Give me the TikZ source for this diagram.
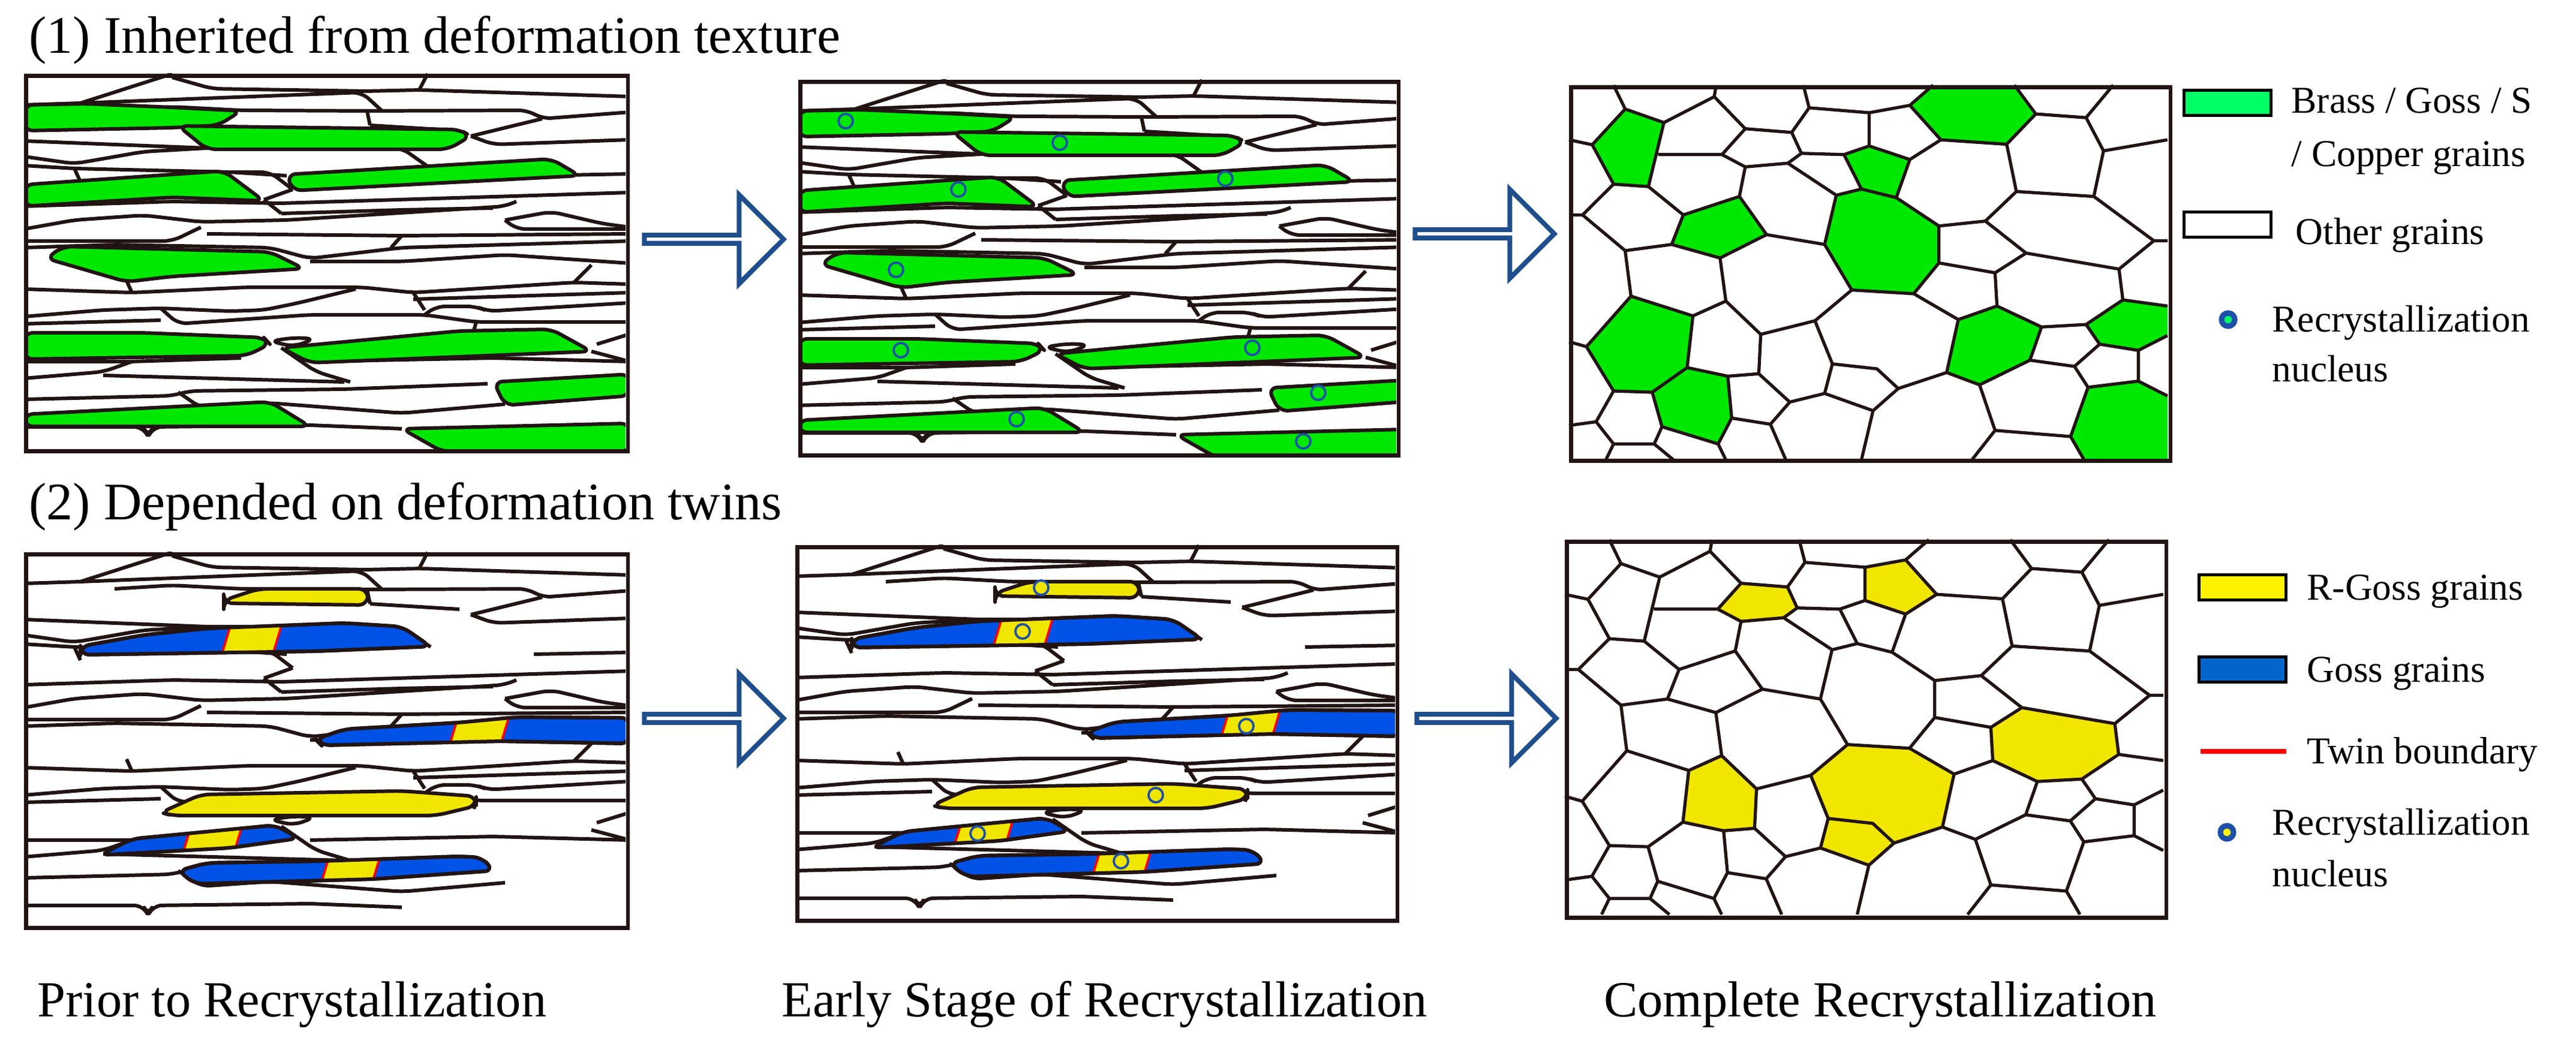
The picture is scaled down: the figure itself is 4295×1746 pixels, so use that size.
\documentclass[tikz,border=0pt]{standalone}
\usepackage{fontspec}
\setmainfont{Liberation Serif}
\newfontfamily\labelfont{Liberation Serif}
\usetikzlibrary{shapes.arrows}

\definecolor{grgreen}{RGB}{0,232,0}
\definecolor{leggreen}{RGB}{0,255,100}
\definecolor{gossblue}{RGB}{0,82,230}
\definecolor{legblue}{RGB}{0,102,204}
\definecolor{rgoss}{RGB}{240,230,0}
\definecolor{arrowblue}{RGB}{31,78,140}
\definecolor{nucblue}{RGB}{30,80,170}
\definecolor{gbcol}{RGB}{35,20,20}

% elongated grains of the rolled sheet, local pixels
\newcommand\deformnet{%
  \draw[gb] (94,49)--(247,0) (247,6)--(314,25)--(572,29)--(659,27)--(1010,38)
    (659,27)--(673,0)
    (0,52)--(94,49)--(563,31)--(596,61)
    (151,61)--(247,55)--(362,61)--(572,62)--(840,61)--(864,75)--(1010,64)
    (572,62)--(577,86)
    (0,112)--(151,118)--(305,124)
    (0,138)--(84,150)--(199,130)--(305,124)
    (577,86)--(726,95) (745,104)--(864,75)
    (745,104)--(783,118)--(1010,110)
    (305,124)--(630,124)--(678,158)
    (0,153)--(84,158)--(343,164)--(438,170) (84,158)--(94,180)
    (343,164)--(410,164)--(448,193)
    (400,210)--(429,233) (400,210)--(448,193)
    (850,170)--(1010,167)
    (429,216)--(1010,198)
    (0,221)--(247,213)--(429,216)
    (0,259)--(84,244)--(199,236)--(295,247)--(438,244)--(802,221)--(821,213)
    (429,233)--(630,227)--(782,224)
    (802,244)--(821,259)--(1010,259) (802,244)--(879,230)--(965,250)--(1010,256)
    (0,279)--(247,279)--(295,256)
    (305,267)--(630,270)--(1010,267)
    (0,290)--(151,285)--(410,290)--(477,308)--(630,290)--(1010,279) (630,270)--(612,290)
    (477,313)--(630,313)--(802,302)--(1010,316)
    (171,345)--(180,365)
    (0,359)--(180,365)--(372,356)--(563,356)--(649,365)--(917,348)--(1010,351)
    (917,348)--(946,319)
    (0,405)--(132,394)--(228,391)--(343,396)--(400,394)--(458,382)--(553,359)
    (228,391)--(257,417)--(477,402)--(668,402)--(754,414)--(1010,414)
    (668,402)--(687,388)--(754,388)--(773,396)--(1010,382)
    (649,365)--(668,394) (649,376)--(1010,365)
    (754,414)--(750,428)
    (0,417)--(228,411)
    (410,446)--(450,440)--(485,442)--(450,455)--cycle
    (429,457)--(487,497)--(544,514)
    (0,480)--(180,480)--(362,474)
    (0,508)--(132,497)--(180,480) (132,503)--(534,514)
    (946,463)--(1010,480) (955,451)--(1010,434)
    (477,480)--(783,474)--(1010,480)
    (0,543)--(247,537)--(276,529)--(534,526)--(773,517)
    (257,531)--(295,557)--(410,549)--(630,566)--(802,551)
    (477,586)--(630,592)
    (0,589)--(199,589)--(207,606)--(215,589)--(477,586);
}

% texture grains (green)
\newcommand\texgrains{%
  \filldraw[gb, fill=grgreen] (0,52)--(104,50)--(247,56)--(362,62)--(324,86)--(247,90)--(0,95)--cycle;
  \filldraw[gb, fill=grgreen] (257,87)--(726,93)--(745,104)--(707,126)--(305,126)--cycle;
  \filldraw[gb, fill=grgreen] (0,185)--(333,162)--(400,212)--(247,206)--(0,221)--cycle;
  \filldraw[gb, fill=grgreen] (438,168)--(879,142)--(927,170)--(448,195)--cycle;
  \filldraw[gb, fill=grgreen] (37,308)--(65,288)--(410,297)--(467,325)--(247,338)--(171,347)--cycle;
  \filldraw[gb, fill=grgreen] (0,432)--(199,432)--(400,440)--(410,451)--(371,470)--(0,476)--cycle;
  \filldraw[gb, fill=grgreen] (429,457)--(726,429)--(879,426)--(946,463)--(477,482)--cycle;
  \filldraw[gb, fill=grgreen] (783,514)--(1010,501)--(1010,537)--(802,553)--cycle;
  \filldraw[gb, fill=grgreen] (0,568)--(410,547)--(477,588)--(0,588)--cycle;
  \filldraw[gb, fill=grgreen] (630,592)--(1010,583)--(1010,630)--(697,630)--cycle;
}

% Goss grains with twins
\newcommand\twingrain[3]{%
  \filldraw[gb, fill=gossblue] #1;
  \begin{scope}
    \clip #1;
    \fill[rgoss] ({#2+15},{#3-50})--({#2+15+85},{#3-50})--({#2-15+85},{#3+50})--({#2-15},{#3+50})--cycle;
    \draw[twin] ({#2+15},{#3-50})--({#2-15},{#3+50}) ({#2+15+85},{#3-50})--({#2-15+85},{#3+50});
  \end{scope}
  \draw[gb] #1;
}
\newcommand\twingrains{%
  \filldraw[gb, fill=rgoss] (333,80)--(391,61)--(573,61)--(573,88)--(333,85)--cycle;
  \twingrain{(94,157)--(199,138)--(305,127)--(534,118)--(630,124)--(678,157)--(486,165)--(94,171)--cycle}{338}{143}
  \twingrain{(486,312)--(534,295)--(726,284)--(821,275)--(1010,276)--(1010,319)--(793,315)--(496,322)--cycle}{716}{300}
  \filldraw[gb, fill=rgoss] (228,434)--(295,404)--(630,398)--(754,407)--(754,423)--(687,439)--(247,439)--cycle;
  \twingrain{(127,505)--(180,478)--(419,455)--(458,477)--(343,493)--cycle}{270}{485}
  \twingrain{(257,531)--(305,518)--(496,515)--(726,507)--(764,509)--(783,531)--(582,545)--(285,553)--cycle}{502}{530}
}

% equiaxed grains after recrystallization, zoom pixels
\newcommand\polycoords{%
  \foreach \n/\p in {1/{125,18},2/{155,115},3/{255,170},4/{390,18},5/{385,65},6/{465,195},
    7/{585,210},8/{630,110},9/{615,18},10/{785,130},11/{890,100},12/{950,18},13/{1160,18},
    14/{1215,135},15/{1345,150},16/{1415,18},17/{1390,285},18/{1555,240},19/{970,240},
    20/{1140,258},21/{890,320},22/{785,265},23/{720,300},24/{610,295},25/{575,335},
    26/{465,350},27/{405,300},28/{240,300},29/{215,430},30/{125,420},31/{70,260},
    32/{10,240},33/{45,545},34/{10,545},35/{305,545},36/{450,470},37/{700,465},
    38/{765,440},39/{855,475},40/{965,590},41/{1085,570},42/{1165,450},43/{1365,470},
    44/{1520,650},45/{1555,650},46/{520,625},47/{670,665},48/{400,720},49/{275,665},
    50/{155,690},51/{965,740},52/{1110,780},53/{1190,700},54/{1430,765},55/{740,850},
    56/{900,865},57/{1440,890},58/{1555,915},59/{170,875},60/{330,955},61/{415,895},
    62/{645,975},63/{505,1030},64/{1015,970},65/{1115,915},66/{1230,1000},67/{1345,990},
    68/{1380,1070},69/{1480,1095},70/{1555,1035},71/{55,1080},72/{10,1060},73/{125,1260},
    74/{225,1265},75/{315,1165},76/{420,1200},77/{500,1190},78/{690,1150},79/{805,1170},
    80/{860,1250},81/{985,1185},82/{1070,1235},83/{1200,1135},84/{1315,1160},85/{1480,1220},
    86/{1350,1245},87/{1555,1280},88/{80,1385},89/{10,1400},90/{125,1475},91/{230,1475},
    92/{250,1405},93/{395,1475},94/{430,1370},95/{530,1395},96/{580,1305},97/{670,1270},
    98/{795,1340},99/{1110,1420},100/{1305,1445},
    b1/{105,1540},b2/{280,1540},b3/{415,1540},b4/{570,1540},b5/{765,1540},b6/{1050,1540},
    b7/{1340,1540},b8/{1555,1540}}
    {\coordinate (v\n) at (\p);}
}
\newcommand\polyedges{%
  \draw[cb] (v1)--(v2)--(v3)--(v5)--(v4) (v2)--(v31)--(v32) (v31)--(v30)--(v29)--(v3)
    (v5)--(v6)--(v7)--(v8)--(v9) (v8)--(v10)--(v11)--(v12) (v13)--(v14)--(v20)--(v19)--(v11)
    (v14)--(v15)--(v16) (v15)--(v17)--(v18) (v17)--(v43) (v20)--(v42)--(v43)--(v44)--(v45)
    (v44)--(v54) (v10)--(v22)--(v21)--(v19) (v22)--(v23)--(v38)--(v39)--(v21)
    (v7)--(v24)--(v23) (v24)--(v25)--(v26)--(v27)--(v6) (v27)--(v28)
    (v26)--(v36) (v25)--(v37)--(v38) (v39)--(v40)--(v41)--(v42) (v40)--(v51)
    (v41)--(v53)--(v52)--(v51) (v53)--(v54)--(v57)--(v58) (v57)--(v67)
    (v51)--(v56)--(v55)--(v47)--(v37) (v47)--(v46)--(v36)--(v35)--(v29)
    (v35)--(v49)--(v48)--(v46) (v49)--(v50)--(v33)--(v30) (v33)--(v34) (v50)--(v59)
    (v48)--(v61)--(v60)--(v59)--(v71)--(v72) (v71)--(v73)--(v74)--(v75)--(v60)
    (v75)--(v76)--(v77)--(v63)--(v61) (v63)--(v62)--(v55) (v62)--(v78)
    (v56)--(v64)--(v65)--(v52) (v65)--(v66)--(v67)--(v68)--(v69)--(v70)
    (v66)--(v83)--(v84)--(v68) (v64)--(v81)--(v82)--(v83) (v69)--(v85)--(v87)
    (v84)--(v86)--(v85) (v86)--(v100)--(vb7) (v100)--(v99)--(v82) (v99)--(vb6)
    (v81)--(v80)--(v79)--(v78)--(v97)--(v98)--(v80) (v98)--(vb5)
    (v97)--(v96)--(v77) (v96)--(v95)--(vb4) (v95)--(v94)--(v76) (v94)--(v93)--(vb3)
    (v93)--(v92)--(v74) (v92)--(v91)--(vb2) (v91)--(v90)--(vb1) (v90)--(v88)--(v89)
    (v88)--(v73);
}

\begin{document}
\begin{tikzpicture}[x=0.01cm, y=-0.01cm,
    gb/.style={draw=gbcol, line width=1.7pt, line join=round, rounded corners=1.5mm},
    cb/.style={draw=gbcol, line width=1.5pt, line join=round},
    twin/.style={draw=red, line width=1.1pt},
    panel/.style={draw=gbcol, line width=1.9pt, inner sep=0pt, anchor=north west},
    stage/.style={single arrow, draw=arrowblue, fill=white, line width=2.3pt,
      minimum height=2.32cm, minimum width=1.48cm, single arrow head extend=0.4cm,
      inner sep=0pt},
    nuc/.style={draw=nucblue, line width=1.1pt},
    title/.style={anchor=base west, inner sep=0pt, font=\labelfont\fontsize{25}{28}\selectfont},
    caption/.style={anchor=base west, inner sep=0pt, font=\labelfont\fontsize{24}{28}\selectfont},
    legend/.style={anchor=base west, inner sep=0pt, font=\labelfont\fontsize{18}{21}\selectfont},
    legbox/.style={draw=black, line width=1.3pt, minimum width=1.45cm, minimum height=0.42cm,
      inner sep=0pt, anchor=north west}]
  \useasboundingbox (0,0) rectangle (4295,1746);

  \node[title] (t1) at (48,89) {(1) Inherited from deformation texture};
  \node[title] (t2) at (48,867) {(2) Depended on deformation twins};

  % row 1
  \begin{scope}[shift={(40,123)}]
    \clip (0,0) rectangle (1003,626);
    \deformnet
    \texgrains
  \end{scope}
  \node[panel, minimum width=10.03cm, minimum height=6.26cm] (a1) at (40,123) {};

  \begin{scope}[shift={(1331,133)}]
    \clip (0,0) rectangle (997,623);
    \deformnet
    \texgrains
    \foreach \p in {{79,69},{436,105},{267,183},{712,165},{163,317},{171,451},
      {757,447},{867,522},{364,566},{842,603}}
      \draw[nuc] (\p) circle[radius=12];
  \end{scope}
  \node[panel, minimum width=9.97cm, minimum height=6.23cm] (a2) at (1331,133) {};

  \begin{scope}[shift={(2616,142)}]
    \begin{scope}[x=0.00645cm, y=-0.0041cm, shift={(-10,-18)}]
      \polycoords
      \foreach \c in {{2,3,29,30,31},{11,12,13,14,20,19},{22,21,39,38,23},
        {35,36,46,48,49},{37,38,39,40,51,56,55,47},{59,60,75,74,73,71},
        {75,76,94,93,92,74},{64,65,66,83,82,81},{57,58,70,69,68,67},
        {86,85,87,b8,b7,100}}
        \fill[grgreen] plot[samples at=\c] (v\x) -- cycle;
      \polyedges
    \end{scope}
  \end{scope}
  \node[panel, minimum width=9.99cm, minimum height=6.23cm] (a3) at (2616,142) {};

  \node[stage] (s1) at (1187,399) {};
  \node[stage] (s2) at (2472,390) {};

  % row 2
  \begin{scope}[shift={(40,921)}]
    \clip (0,0) rectangle (1003,623);
    \deformnet
    \twingrains
  \end{scope}
  \node[panel, minimum width=10.03cm, minimum height=6.23cm] (b1) at (40,921) {};

  \begin{scope}[shift={(1326,909)}]
    \clip (0,0) rectangle (1000,623);
    \deformnet
    \twingrains
    \foreach \p in {{410,71},{379,144},{752,302},{601,417},{304,481},{543,527}}
      \filldraw[nuc, fill=rgoss] (\p) circle[radius=12];
  \end{scope}
  \node[panel, minimum width=10cm, minimum height=6.23cm] (b2) at (1326,909) {};

  \begin{scope}[shift={(2609,900)}]
    \begin{scope}[x=0.00645cm, y=-0.0041cm, shift={(-10,-18)}]
      \polycoords
      \foreach \c in {{27,6,7,24,25,26},{10,11,19,21,22},{52,53,54,57,67,66,65},
        {55,56,64,81,80,79,78,62},{78,79,80,98,97},{60,61,63,77,76,75}}
        \fill[rgoss] plot[samples at=\c] (v\x) -- cycle;
      \polyedges
    \end{scope}
  \end{scope}
  \node[panel, minimum width=9.99cm, minimum height=6.27cm] (b3) at (2609,900) {};

  \node[stage] (s3) at (1187,1198) {};
  \node[stage] (s4) at (2475,1198) {};

  % stage captions
  \node[caption] (c1) at (62,1695) {Prior to Recrystallization};
  \node[caption, anchor=base east] (c2) at (2380,1695) {Early Stage of Recrystallization};
  \node[caption, anchor=base east] (c3) at (3596,1695) {Complete Recrystallization};

  % legends
  \node[legbox, fill=leggreen] (k1) at (3639,148) {};
  \node[legend] (k1a) at (3820,189) {Brass / Goss / S};
  \node[legend] (k1b) at (3820,278) {/ Copper grains};
  \node[legbox, fill=white] (k2) at (3639,351) {};
  \node[legend] (k2a) at (3827,408) {Other grains};
  \filldraw[draw=nucblue, line width=2.6pt, fill=leggreen] (3715,533) circle[radius=11];
  \node[legend] (k3a) at (3788,554) {Recrystallization};
  \node[legend] (k3b) at (3788,637) {nucleus};

  \node[legbox, fill=yellow] (k4) at (3664,956) {};
  \node[legend] (k4a) at (3846,1001) {R-Goss grains};
  \node[legbox, fill=legblue] (k5) at (3664,1093) {};
  \node[legend] (k5a) at (3846,1138) {Goss grains};
  \coordinate (r1) at (3669,1253);
  \coordinate (r2) at (3812,1253);
  \draw[red, line width=2.3pt] (r1) -- (r2);
  \node[legend] (k6a) at (3846,1273) {Twin boundary};
  \filldraw[draw=nucblue, line width=2.6pt, fill=yellow] (3713,1388) circle[radius=11];
  \node[legend] (k7a) at (3788,1392) {Recrystallization};
  \node[legend] (k7b) at (3788,1478) {nucleus};
\end{tikzpicture}
\end{document}
